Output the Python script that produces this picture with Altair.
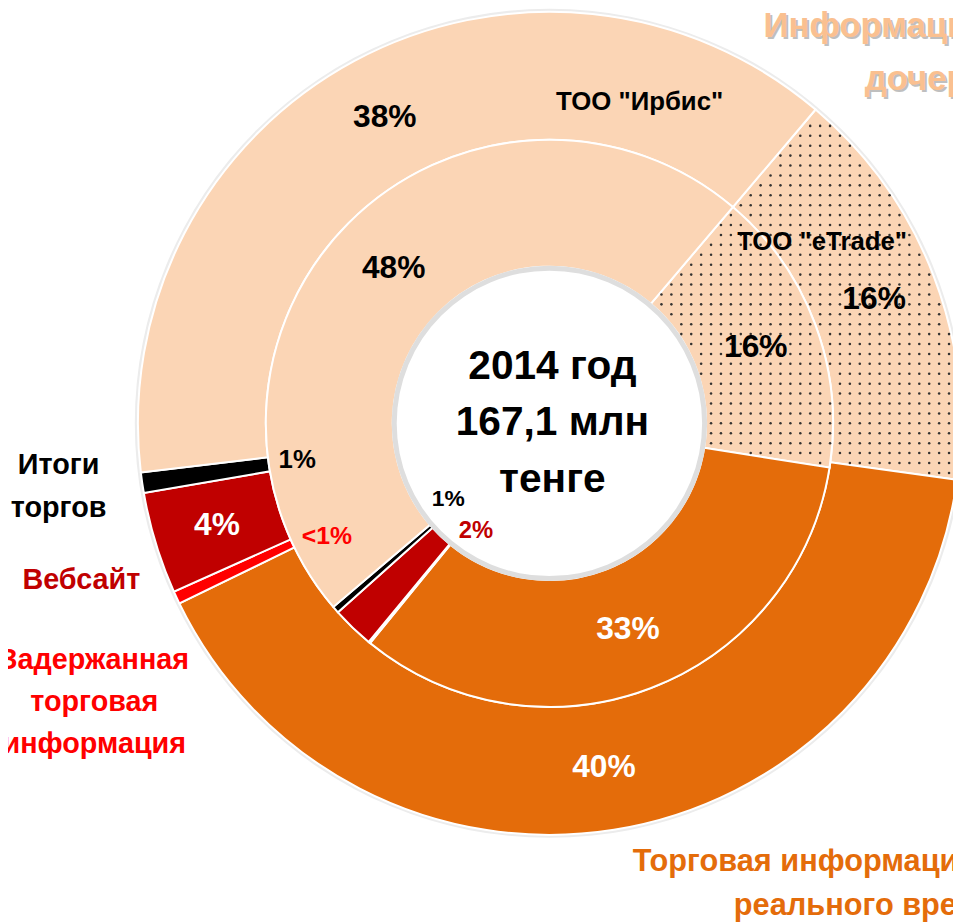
import math
import altair as alt
import pandas as pd

# ---------------- data ----------------
keys = ["etrade", "rt", "delayed", "web", "itogi", "irbis"]
categories = ['ТОО "eTrade"', "Торговая информация в режиме реального времени",
              "Задержанная торговая информация", "Вебсайт", "Итоги торгов", 'ТОО "Ирбис"']
outer_values = [16.0, 40.6, 0.5, 4.0, 0.8, 38.1]   # outer ring, % of 167,1 млн тенге
inner_values = [16.3, 33.4, 0.1, 2.4, 0.4, 47.4]   # inner ring, %
outer_mid_labels = ["16%", "40%", "", "4%", "", "38%"]
outer_itogi_labels = ["", "", "", "", "1%", ""]
outer_delayed_labels = ["", "", "<1%", "", "", ""]
inner_mid_labels = ["16%", "33%", "", "", "", "48%"]
inner_small_labels = ["", "", "", "2%", "1%", ""]
center_lines = ["2014 год", "167,1 млн", "тенге"]
itogi_label = "Итоги\nторгов"
web_label = "Вебсайт"
delayed_label = "Задержанная\nторговая\nинформация"
rt_lines = ["Торговая информация в режиме", "реального времени"]
sub_lines = ["Информационные продукты", "дочерних организаций"]
irbis_label = 'ТОО "Ирбис"'
etrade_label = 'ТОО "eTrade"'

# ---------------- styles / geometry ----------------
slice_colors = ["#FBD5B5", "#E46C0A", "#FF0000", "#C00000", "#000000", "#FBD5B5"]
W, H = 953, 915
CX, CY = 546, 415
R_OUT, R_MID, R_IN = 415, 286, 158
START_DEG = 40.3
T0 = math.radians(START_DEG)
BOLD = "Liberation Sans, Arial, sans-serif"


def ring_base(values, extra):
    cols = {"key": keys, "cat": categories, "value": values, "idx": list(range(len(keys)))}
    cols.update(extra)
    return alt.Chart(pd.DataFrame(cols)).encode(
        theta=alt.Theta("value:Q", stack=True,
                        scale=alt.Scale(range=[T0, T0 + 2 * math.pi])),
        order=alt.Order("idx:Q"),
        x=alt.value(CX), y=alt.value(CY),
    )


def arcs(base, r0, r1):
    return base.mark_arc(radius=r1, radius2=r0, stroke="white", strokeWidth=2).encode(
        color=alt.Color("key:N", scale=alt.Scale(domain=keys, range=slice_colors), legend=None)
    )


def mid_text(base, r, size):
    return base.mark_text(radius=r, font=BOLD, fontSize=size, fontWeight="bold").encode(
        text="mid:N",
        color=alt.condition("datum.key == 'rt' || datum.key == 'web'",
                            alt.value("white"), alt.value("black")),
    )


outer_b = ring_base(outer_values, {"mid": outer_mid_labels, "it": outer_itogi_labels,
                                   "dl": outer_delayed_labels})
inner_b = ring_base(inner_values, {"mid": inner_mid_labels})

outer_arc = arcs(outer_b, R_MID, R_OUT)
inner_arc = arcs(inner_b, R_IN, R_MID)
outer_mid = mid_text(outer_b, (R_MID + R_OUT) / 2, 32)
inner_mid = mid_text(inner_b, (R_IN + R_MID) / 2, 32)
outer_itogi = outer_b.mark_text(radius=257, font=BOLD, fontSize=26, fontWeight="bold",
                                color="black").encode(text="it:N")
outer_delayed = outer_b.mark_text(radius=250, dx=2, dy=8, font=BOLD, fontSize=25,
                                  fontWeight="bold", color="#FF0000").encode(text="dl:N")

# dotted texture of the eTrade slices (wedge limits derived from the data shares)
o_end = START_DEG + outer_values[0] / sum(outer_values) * 360
i_end = START_DEG + inner_values[0] / sum(inner_values) * 360
PX, PY = 10.0, 10.0
ncols = int(440 / PX) + 2
nrows = int(540 / PY) + 1
dots = (
    alt.Chart(alt.sequence(0, ncols * nrows, as_="i"))
    .transform_calculate(row=f"floor(datum.i / {ncols})", col=f"datum.i % {ncols}")
    .transform_calculate(px=f"{CX} + 3 + datum.col * {PX}",
                         py=f"{CY - 420} + datum.row * {PY}")
    .transform_calculate(dx=f"datum.px - {CX}", dy=f"datum.py - {CY}")
    .transform_calculate(r="sqrt(datum.dx * datum.dx + datum.dy * datum.dy)",
                         ang="atan2(datum.dx, -datum.dy) * 180 / PI")
    .transform_filter(
        f"(datum.r > {R_MID + 2} && datum.r < {R_OUT - 2} && "
        f"(datum.ang - {START_DEG}) * PI / 180 * datum.r > 2 && ({o_end} - datum.ang) * PI / 180 * datum.r > 2) || "
        f"(datum.r > {R_IN + 2} && datum.r < {R_MID - 2} && "
        f"(datum.ang - {START_DEG}) * PI / 180 * datum.r > 2 && ({i_end} - datum.ang) * PI / 180 * datum.r > 2)"
    )
    .mark_circle(size=6.5, color="#2a2a2a", opacity=0.95)
    .encode(x=alt.X("px:Q", scale=None), y=alt.Y("py:Q", scale=None))
)

one = pd.DataFrame({"a": [0]})
hole_shadow = alt.Chart(one).mark_arc(radius=R_IN + 1, radius2=R_IN - 4, theta=0,
                                      theta2=2 * math.pi, color="#dedede").encode(
    x=alt.value(CX), y=alt.value(CY))
outer_shadow = alt.Chart(one).mark_arc(radius=R_OUT + 3, radius2=R_OUT - 1, theta=0,
                                       theta2=2 * math.pi, color="#ececec").encode(
    x=alt.value(CX), y=alt.value(CY))


def label(txt, x, y, size, color, align="center", baseline="middle", lh=None,
          opacity=1.0):
    kw = dict(font=BOLD, fontSize=size, fontWeight="bold", color=color, align=align,
              baseline=baseline, lineBreak="\n", opacity=opacity)
    if lh is not None:
        kw["lineHeight"] = lh
    return alt.Chart(pd.DataFrame({"t": [txt]})).mark_text(**kw).encode(
        text="t:N", x=alt.value(x), y=alt.value(y))


labels = [
    label("\n".join(center_lines), 549, 358, 41, "black", lh=57),
    label(inner_small_labels[3], 472, 524, 24, "#C00000"),
    label(inner_small_labels[4], 444, 491, 23, "black"),
    label(irbis_label, 637, 91, 26, "black"),
    label(etrade_label, 821, 232, 26, "black"),
    label(itogi_label, 51, 457, 29, "black", lh=43),
    label(web_label, 74, 573, 29, "#C00000"),
    label(delayed_label, 87, 654, 29, "#FF0000", lh=42),
    label(rt_lines[0], 630, 857, 31, "#E46C0A", align="left"),
    label(rt_lines[1], 732, 902, 31, "#E46C0A", align="left"),
    label(sub_lines[0], 764, 16, 35, "#8c8c8c", align="left", opacity=0.55),
    label(sub_lines[0], 762, 14, 35, "#FAC090", align="left"),
    label(sub_lines[1], 866, 70, 35, "#8c8c8c", align="left", opacity=0.55),
    label(sub_lines[1], 864, 68, 35, "#FAC090", align="left"),
]

chart = alt.layer(outer_shadow, outer_arc, inner_arc, hole_shadow, dots,
                  outer_mid, inner_mid, outer_itogi, outer_delayed, *labels).resolve_scale(
    theta="independent", color="independent"
).properties(
    width=W, height=H, autosize=alt.AutoSizeParams(type="none"), padding=0,
    background="white"
).configure_view(stroke=None)

chart.save("out.html", embed_options={"renderer": "svg", "actions": False})
